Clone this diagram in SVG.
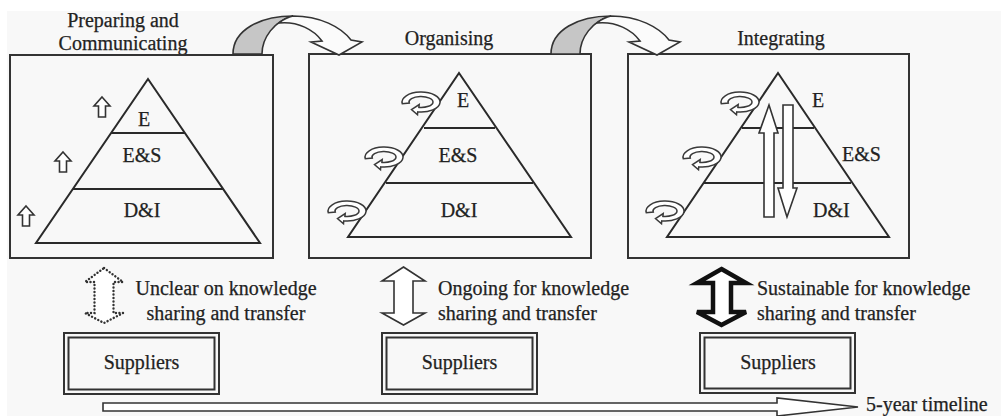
<svg xmlns="http://www.w3.org/2000/svg" width="1001" height="416" viewBox="0 0 1001 416">
  <defs>
    <style>
      .frame { fill: none; stroke: #333; stroke-width: 2; }
      .pyr { fill: none; stroke: #2a2a2a; stroke-width: 2; }
      .lbl { font-family: "Liberation Serif", "Times New Roman", serif; font-size: 20px; fill: #222; stroke: #222; stroke-width: 0.25; }
      .mid { text-anchor: middle; }
      .outline { fill: #fff; stroke: #333; stroke-width: 1.6; stroke-linejoin: miter; }
      .cycle { fill: #fff; stroke: #3a3a3a; stroke-width: 1.5; }
      .back { fill: #c6c6c6; stroke: #333; stroke-width: 1.6; }
      .front { fill: #fbfbfb; stroke: #333; stroke-width: 1.6; }
    </style>
    <!-- small outlined upward arrow, tip at origin -->
    <path id="up" d="M0,0 L8,9 L3.5,9 L3.5,20 L-3.5,20 L-3.5,9 L-8,9 Z"/>
    <!-- circular arrow icon centred on origin -->
    <path id="cyc" d="M-18.7,1.7 A19,10 0 1 1 -3.3,9.9 L-3.5,12.8 L-9.5,7.6 L-1.8,2.6 L-2.1,5.4 A12,5.5 0 1 0 -11.8,1 Z"/>
  </defs>

  <rect x="0" y="0" width="1001" height="416" fill="#ffffff"/>
  <rect x="7" y="11" width="994" height="405" fill="#f8f8f8"/>

  <!-- phase 1 -->
  <g id="phase-preparing">
    <text class="lbl mid" x="123" y="27">Preparing and</text>
    <text class="lbl mid" x="123" y="50">Communicating</text>
    <rect class="frame" x="10" y="55" width="263" height="203"/>
    <path class="pyr" d="M148,79 L260,243 L36,243 Z M111,133 H185 M73,189 H223"/>
    <text class="lbl mid" x="144" y="126">E</text>
    <text class="lbl mid" x="142" y="162">E&amp;S</text>
    <text class="lbl mid" x="142" y="217">D&amp;I</text>
    <use href="#up" class="outline" x="102" y="97"/>
    <use href="#up" class="outline" x="63" y="152"/>
    <use href="#up" class="outline" x="26" y="206"/>
  </g>

  <!-- phase 2 -->
  <g id="phase-organising">
    <text class="lbl mid" x="449" y="45">Organising</text>
    <rect class="frame" x="309" y="54" width="282" height="204"/>
    <path class="pyr" d="M459,73 L571,237 L348,237 Z M424,128 H495 M386,183 H533"/>
    <text class="lbl mid" x="463" y="107">E</text>
    <text class="lbl mid" x="458" y="162">E&amp;S</text>
    <text class="lbl mid" x="459" y="217">D&amp;I</text>
    <use href="#cyc" class="cycle" x="421" y="102"/>
    <use href="#cyc" class="cycle" x="384" y="157"/>
    <use href="#cyc" class="cycle" x="347" y="211"/>
  </g>

  <!-- phase 3 -->
  <g id="phase-integrating">
    <text class="lbl mid" x="781" y="45">Integrating</text>
    <rect class="frame" x="628" y="54" width="281" height="204"/>
    <path class="pyr" d="M778,73 L889,237 L667,237 Z M742,128 H814 M704,183 H851"/>
    <text class="lbl" x="812" y="107">E</text>
    <text class="lbl" x="842" y="161">E&amp;S</text>
    <text class="lbl" x="813" y="217">D&amp;I</text>
    <use href="#cyc" class="cycle" x="740" y="102"/>
    <use href="#cyc" class="cycle" x="702" y="157"/>
    <use href="#cyc" class="cycle" x="665" y="211"/>
    <path class="outline" stroke-width="2" d="M769,105 L778,133 L774,133 L774,217 L764,217 L764,133 L759,133 Z"/>
    <path class="outline" stroke-width="2" d="M783,105 L793,105 L793,188 L797,188 L787,217 L778,188 L783,188 Z"/>
  </g>

  <!-- supplier nodes -->
  <g id="suppliers-1">
    <rect class="frame" x="64" y="333" width="155" height="61" stroke-width="2.2"/>
    <rect class="frame" x="68.5" y="337.5" width="146" height="52" stroke-width="1.6"/>
    <text class="lbl mid" x="141.5" y="369" font-size="23">Suppliers</text>
  </g>
  <g id="suppliers-2">
    <rect class="frame" x="382" y="333" width="155" height="61" stroke-width="2.2"/>
    <rect class="frame" x="386.5" y="337.5" width="146" height="52" stroke-width="1.6"/>
    <text class="lbl mid" x="459.5" y="369" font-size="23">Suppliers</text>
  </g>
  <g id="suppliers-3">
    <rect class="frame" x="700" y="333" width="155" height="60" stroke-width="2.2"/>
    <rect class="frame" x="704.5" y="337.5" width="146" height="51" stroke-width="1.6"/>
    <text class="lbl mid" x="778" y="369" font-size="23">Suppliers</text>
  </g>

  <!-- knowledge-sharing captions -->
  <g id="sharing-unclear">
    <text class="lbl mid" x="226" y="295">Unclear on knowledge</text>
    <text class="lbl mid" x="226" y="320">sharing and transfer</text>
  </g>
  <g id="sharing-ongoing">
    <text class="lbl" x="438" y="295">Ongoing for knowledge</text>
    <text class="lbl" x="438" y="320">sharing and transfer</text>
  </g>
  <g id="sharing-sustainable">
    <text class="lbl" x="757" y="295">Sustainable for knowledge</text>
    <text class="lbl" x="757" y="320">sharing and transfer</text>
  </g>

  <g id="timeline-label">
    <text class="lbl" x="866" y="411" font-size="21">5-year timeline</text>
  </g>

  <!-- connectors -->
  <g id="connectors">
    <!-- curved phase transitions -->
    <path class="back" d="M233,54 C233,30 260,16 293,16 C274,21 262,38 262,54 Z"/>
    <path class="front" d="M293,16 C320,16 341,27 351,40 L362,42 L339,55 L311,42 L322,41 C314,30 298,21 279,23 C284,19 288,17 293,16 Z"/>
    <path class="back" d="M551,54 C551,30 578,16 611,16 C592,21 580,38 580,54 Z"/>
    <path class="front" d="M611,16 C638,16 659,27 669,40 L680,42 L657,55 L629,42 L640,41 C632,30 616,21 597,23 C602,19 606,17 611,16 Z"/>

    <!-- supplier exchange arrows -->
    <path d="M104,268 L123,282 L113.5,282 L113.5,313 L123,313 L104,323 L85,313 L94.5,313 L94.5,282 L85,282 Z"
          fill="#fff" stroke="#333" stroke-width="2.4" stroke-dasharray="0.1 3.4" stroke-linecap="round"/>
    <path class="outline" stroke-width="2" d="M403.5,267 L425,281 L413,281 L413,313 L425,313 L403.5,325 L382,313 L394,313 L394,281 L382,281 Z"/>
    <path d="M721.5,269 L746,283 L731,283 L731,312 L746,312 L721.5,325 L697,312 L713,312 L713,283 L697,283 Z"
          fill="#fff" stroke="#111" stroke-width="4.5" stroke-linejoin="miter"/>

    <!-- timeline -->
    <path class="outline" stroke-width="1.8" d="M103,403 L777,403 L777,398 L858,407 L777,416 L777,411 L103,411 Z"/>
  </g>
</svg>
